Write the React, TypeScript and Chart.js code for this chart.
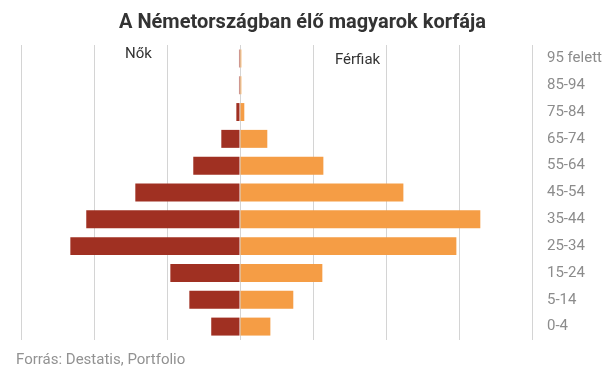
import React, { useEffect, useRef } from "react";
import { Chart, registerables } from "chart.js";

Chart.register(...registerables);

const ageGroups = ["95 felett", "85-94", "75-84", "65-74", "55-64", "45-54", "35-44", "25-34", "15-24", "5-14", "0-4"];
const women = [70, 70, 250, 1280, 3200, 7170, 10530, 11620, 4770, 3470, 1970];
const men = [90, 90, 295, 1870, 5710, 11190, 16460, 14820, 5640, 3650, 2080];
const titleText = "A Németországban élő magyarok korfája";
const sourceText = "Forrás: Destatis, Portfolio";
const womenLabel = "Nők";
const menLabel = "Férfiak";

export default function App() {
  const ref = useRef<HTMLCanvasElement | null>(null);
  useEffect(() => {
    document.body.style.margin = "0";
    const canvas = ref.current!;
    const textPlugin = {
      id: "texts",
      afterDraw(chart: any) {
        const ctx = chart.ctx;
        const x = chart.scales.x;
        const area = chart.chartArea;
        ctx.save();
        ctx.font = "bold 20px Roboto";
        ctx.fillStyle = "#333333";
        ctx.textAlign = "center";
        ctx.textBaseline = "middle";
        ctx.fillText(titleText, chart.width / 2, 23);
        ctx.font = "15px Roboto";
        ctx.fillText(womenLabel, x.getPixelForValue(-6950), area.top + 9);
        ctx.fillText(menLabel, x.getPixelForValue(8050), area.top + 15);
        ctx.fillStyle = "#929292";
        ctx.textAlign = "left";
        ctx.fillText(sourceText, 16, 360);
        ctx.restore();
      },
    };
    const chart = new Chart(canvas, {
      type: "bar",
      data: {
        labels: ageGroups,
        datasets: [
          {
            label: womenLabel,
            data: women.map((v) => -v),
            backgroundColor: "#A03022",
            barPercentage: 0.67,
            categoryPercentage: 1,
          },
          {
            label: menLabel,
            data: men,
            backgroundColor: "#F59D45",
            barPercentage: 0.67,
            categoryPercentage: 1,
          },
        ],
      },
      options: {
        indexAxis: "y",
        responsive: false,
        animation: false,
        layout: { padding: { left: 21, right: 0, top: 45, bottom: 36 } },
        plugins: {
          legend: { display: false },
          tooltip: { enabled: false },
          title: { display: false },
        },
        scales: {
          x: {
            stacked: true,
            min: -15000,
            max: 20000,
            ticks: { display: false, stepSize: 5000 },
            grid: { color: "#d4d4d4", lineWidth: 1, drawTicks: false },
            border: { display: false },
          },
          y: {
            stacked: true,
            position: "right",
            grid: { display: false, drawTicks: false },
            border: { display: false },
            ticks: {
              color: "#8c8c8c",
              font: { family: "Roboto", size: 15 },
              padding: 15,
              crossAlign: "near",
            },
            afterFit(scale: any) {
              scale.width = 73;
            },
          },
        },
      } as any,
      plugins: [textPlugin],
    });
    return () => chart.destroy();
  }, []);
  return (
    <div style={{ width: 605, height: 376 }}>
      <canvas ref={ref} width={605} height={376} />
    </div>
  );
}
